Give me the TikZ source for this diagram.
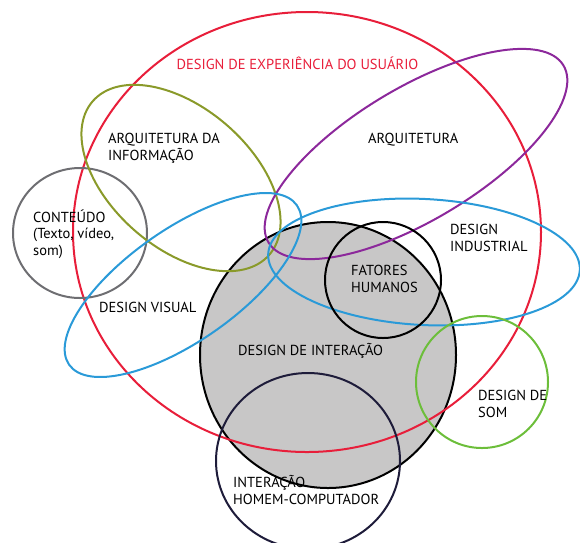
\documentclass[tikz,border=0pt]{standalone}
\usepackage{fontspec}
\setmainfont{PT Sans}
\definecolor{uxred}{RGB}{232,30,58}
\definecolor{iaolive}{RGB}{138,154,42}
\definecolor{archpurple}{RGB}{140,40,155}
\definecolor{dsblue}{RGB}{42,154,216}
\definecolor{cgray}{RGB}{110,110,114}
\definecolor{hcinavy}{RGB}{30,28,58}
\definecolor{somgreen}{RGB}{108,190,58}
\definecolor{ixfill}{RGB}{200,199,199}
\tikzset{
  ring/.style={line width=2pt},
  % base west sits on the baseline of the last line
  lbl/.style={font=\fontsize{14.5}{17}\selectfont, align=left, inner sep=0pt, anchor=base west}
}
\begin{document}
\begin{tikzpicture}[x=1pt,y=-1pt]
\useasboundingbox (0,0) rectangle (580,542);
% interaction design (filled)
\fill[ixfill] (328,355) ellipse [x radius=128, y radius=133];
\draw[ring,black] (328,355) ellipse [x radius=128, y radius=133];
% user experience
\draw[ring,uxred] (307,232) ellipse [x radius=234, y radius=220];
% content
\draw[ring,cgray] (80,233) ellipse [x radius=67, y radius=65];
% information architecture
\draw[ring,iaolive,rotate around={-41:(181,178)}] (181,178) ellipse [x radius=117, y radius=70];
% architecture
\draw[ring,archpurple,rotate around={31:(416,154)}] (416,154) ellipse [x radius=172, y radius=66];
% visual design
\draw[ring,dsblue,rotate around={35:(183,285)}] (183,285) ellipse [x radius=139, y radius=56];
% industrial design
\draw[ring,dsblue,rotate around={-3:(424,262)}] (424,262) ellipse [x radius=156, y radius=63];
% human factors
\draw[ring,black] (383,280) circle [radius=58];
% sound design
\draw[ring,somgreen] (482,382) circle [radius=66];
% human-computer interaction
\draw[ring,hcinavy] (308,461) ellipse [x radius=92, y radius=88];

\node[lbl,anchor=base,text=uxred] (tux) at (297.5,69) {DESIGN DE EXPERIÊNCIA DO USUÁRIO};
\node[lbl] (tia) at (108,160) {ARQUITETURA DA\\INFORMAÇÃO};
\node[lbl] (tarch) at (368,143) {ARQUITETURA};
\node[lbl,font=\fontsize{14.5}{16.5}\selectfont] (tcont) at (33,255) {CONTEÚDO\\(Texto, vídeo,\\som)};
\node[lbl] (tind) at (450,251) {DESIGN\\INDUSTRIAL};
\node[lbl] (thf) at (351,292) {FATORES\\HUMANOS};
\node[lbl] (tvis) at (99,312) {DESIGN VISUAL};
\node[lbl] (tix) at (238,355) {DESIGN DE INTERAÇÃO};
\node[lbl] (tsom) at (478,417) {DESIGN DE\\SOM};
\node[lbl] (thci) at (233,504) {INTERAÇÃO\\HOMEM-COMPUTADOR};
\end{tikzpicture}
\end{document}
